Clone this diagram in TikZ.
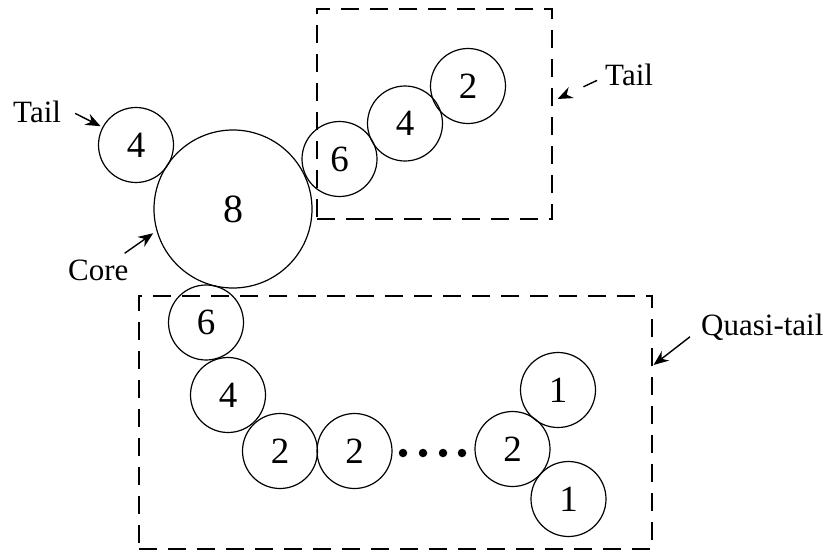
\documentclass[tikz,border=0pt]{standalone}
\usepackage{fontspec}
\setmainfont{Liberation Serif}
\usepackage{tikz}
\usetikzlibrary{arrows.meta}

\begin{document}
\begin{tikzpicture}[
    x=1pt, y=-1pt,
    ring/.style={draw, circle, minimum size=75pt, inner sep=0pt,
                 line width=1.2pt, font=\fontsize{37}{44}\selectfont},
    bigring/.style={ring, minimum size=158pt, font=\fontsize{40}{48}\selectfont},
    lbl/.style={inner sep=0pt, anchor=base west, font=\fontsize{31}{37}\selectfont},
    dbox/.style={draw, rectangle, inner sep=0pt, line width=1.1pt,
                 dash pattern=on 18pt off 11pt},
    dot/.style={circle, fill, inner sep=0pt, minimum size=8.5pt},
    myarr/.style={-{Stealth[length=15pt,width=12pt]}, line width=1.4pt},
]
\useasboundingbox (0,0) rectangle (826,557);
%% -- Core and its short tail --
\node[bigring](core)at(233,209){8};
\node[ring](tl4)at(136,145){4};
%% -- Tail on the upper right --
\node[ring](tr6)at(339.5,159){6};
\node[ring](tr4)at(405,123.5){4};
\node[ring](tr2)at(468,86){2};
%% -- Quasi-tail chain --
\node[ring](q6)at(206,322.5){6};
\node[ring](q4)at(228,395){4};
\node[ring](q2a)at(280,451){2};
\node[ring](q2b)at(354.5,451){2};
\node[ring](q2c)at(512.5,449){2};
\node[ring](q1a)at(558,390){1};
\node[ring](q1b)at(568.5,499){1};
\foreach \x [count=\i] in {403,423,443,462}{
  \node[dot](d\i)at(\x,453){};
}
%% -- Dashed frames --
\node[dbox, minimum width=235pt, minimum height=210pt](tbox)at(434.5,114){};
\node[dbox, minimum width=513pt, minimum height=253pt](qbox)at(395.5,422.5){};
%% -- Labels and pointers --
\node[lbl](tailL)at(13,122){Tail};
\node[lbl](coreL)at(68,280){Core};
\node[lbl](tailR)at(605,85){Tail};
\node[lbl](quasiL)at(701,335){Quasi-tail};
\draw[myarr, shorten >=2pt]([xshift=14pt,yshift=-2pt]tailL.east)--(tl4.152);
\draw[myarr, shorten >=4pt]([xshift=-4pt,yshift=6pt]coreL.north east)--(core.196);
\draw[myarr, dash pattern=on 15pt off 20pt]([xshift=-8pt,yshift=-6pt]tailR.west)
  --([xshift=5pt,yshift=15pt]tbox.east);
\draw[myarr]([xshift=-11pt,yshift=-10pt]quasiL.west)
  --([xshift=1pt,yshift=57.5pt]qbox.east);
\end{tikzpicture}
\end{document}
